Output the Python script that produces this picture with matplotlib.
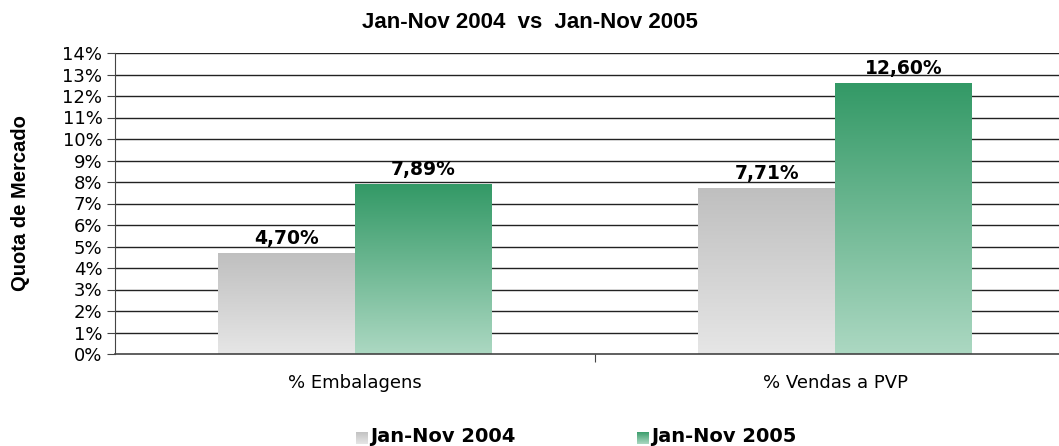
import numpy as np
import matplotlib
matplotlib.use('Agg')
import matplotlib.pyplot as plt
from matplotlib.colors import LinearSegmentedColormap
from matplotlib.patches import Rectangle

# data
categories = ['% Embalagens', '% Vendas a PVP']
series_names = ['Jan-Nov 2004', 'Jan-Nov 2005']
values_2004 = [4.70, 7.71]
values_2005 = [7.89, 12.60]
yticks = list(range(0, 15))

# gradients (bottom colour, top colour)
grad_gray = LinearSegmentedColormap.from_list('g', ['#e6e6e6', '#bfbfbf'])
grad_green = LinearSegmentedColormap.from_list('gr', ['#acd8c2', '#339966'])

fig = plt.figure(figsize=(10.59, 4.46), dpi=100)
ax = fig.add_axes([115 / 1059, 1 - 354 / 446, (1075 - 115) / 1059, (354 - 53) / 446])

ax.set_xlim(-0.5, 1.5)
ax.set_ylim(0, 14)
ax.set_yticks(yticks)
ax.set_yticklabels([f'{t}%' for t in yticks], fontsize=13, family='DejaVu Sans')
for t in yticks[1:]:
    ax.axhline(t, color='#222222', linewidth=1.0, zorder=1)

width = 0.285
grad = np.linspace(0, 1, 256).reshape(-1, 1)
for vals, offset, cmap in [(values_2004, -width / 2, grad_gray), (values_2005, width / 2, grad_green)]:
    for i, v in enumerate(vals):
        x0 = i + offset - width / 2
        im = ax.imshow(grad, cmap=cmap, origin='lower', aspect='auto',
                       extent=[x0, x0 + width, 0, v], zorder=2)
        rect = Rectangle((x0, 0), width, v, transform=ax.transData)
        im.set_clip_path(rect)
        ax.text(i + offset, v + 0.25, f'{v:.2f}%'.replace('.', ','), ha='center', va='bottom',
                fontsize=13.5, fontweight='bold', family='DejaVu Sans', zorder=3)

ax.set_xlim(-0.5, 1.5)
ax.set_ylim(0, 14)
ax.set_xticks([0.5], minor=False)
ax.set_xticklabels([''])
ax.tick_params(axis='x', length=6, color='#444444')
for i, c in enumerate(categories):
    ax.text(i, -0.95, c, ha='center', va='top', fontsize=13, family='DejaVu Sans')

ax.tick_params(axis='y', length=6, color='#444444', pad=3)
for s in ['top', 'right']:
    ax.spines[s].set_visible(False)
ax.spines['left'].set_color('#444444')
ax.spines['bottom'].set_color('#444444')
ax.spines['bottom'].set_linewidth(1.2)

ax.set_ylabel('Quota de Mercado', fontsize=14.5, fontweight='bold', family='Liberation Sans')
ax.yaxis.set_label_coords(-0.089, 0.5)

fig.text(0.5, 1 - 22 / 446, 'Jan-Nov 2004  vs  Jan-Nov 2005', ha='center', va='center',
         fontsize=16, fontweight='bold', family='Liberation Sans')

# legend with small gradient squares
for name, cmap, xs in [(series_names[0], grad_gray, 356), (series_names[1], grad_green, 637)]:
    sq = fig.add_axes([xs / 1059, 1 - 444 / 446, 12 / 1059, 12 / 446])
    sq.imshow(grad, cmap=cmap, origin='lower', aspect='auto')
    sq.axis('off')
    fig.text((xs + 14) / 1059, 1 - 437 / 446, name, ha='left', va='center',
             fontsize=14, fontweight='bold', family='DejaVu Sans')

fig.savefig('out.png', dpi=100)
